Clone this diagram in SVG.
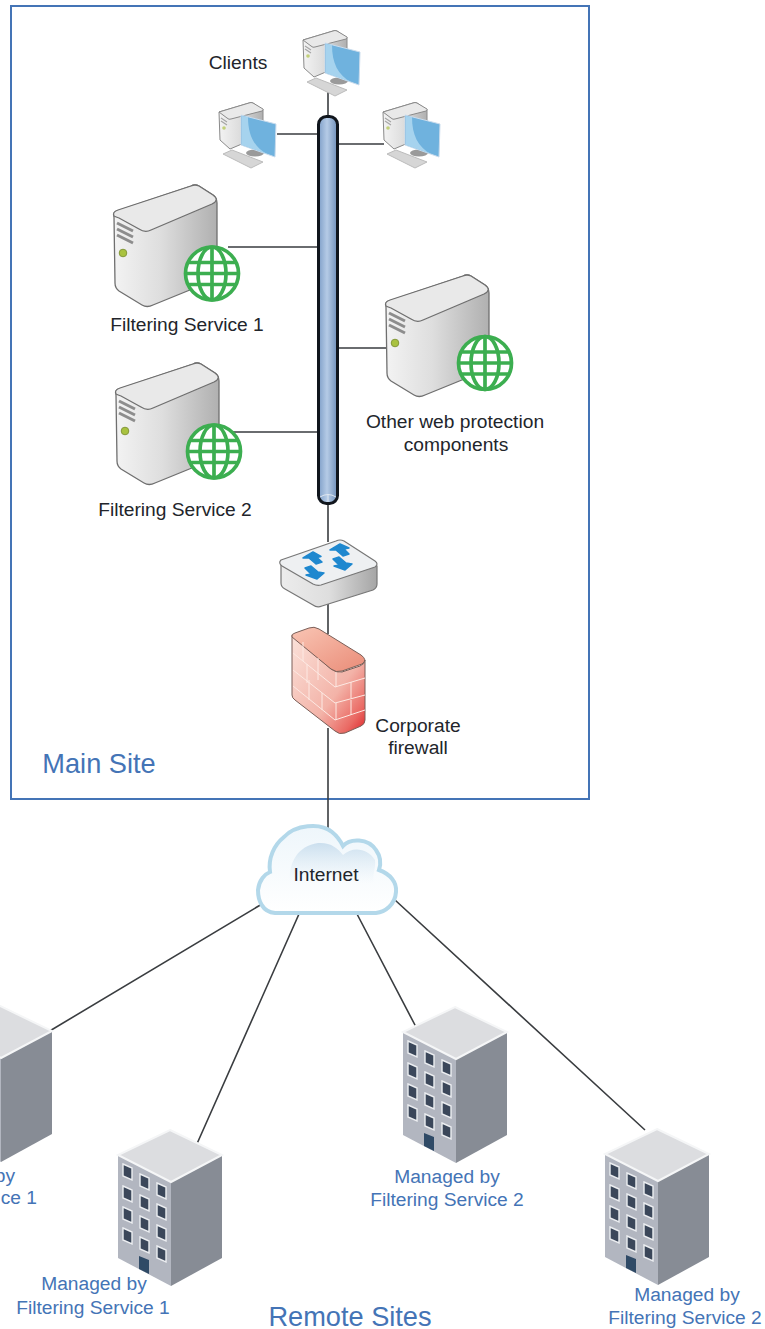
<svg xmlns="http://www.w3.org/2000/svg" width="765" height="1329" viewBox="0 0 765 1329">
<style>
text{font-family:"Liberation Sans",Arial,sans-serif;font-size:19.2px;fill:#22252b;text-anchor:middle}
.b{fill:#4474b6}
.e{text-anchor:end}
.big{font-size:27.2px}
.c{stroke:#3a3d40;stroke-width:1.6;fill:none}
.glw{fill:none;stroke:#3cae50;stroke-width:3.7}
</style>
<defs>
<linearGradient id="bus" x1="0" x2="1" y1="0" y2="0"><stop offset="0" stop-color="#7f9fc8"/><stop offset=".45" stop-color="#b5cbe6"/><stop offset="1" stop-color="#6f8fb9"/></linearGradient>
<linearGradient id="sv" x1="0" x2="1" y1="0" y2="0"><stop offset="0" stop-color="#f3f3f3"/><stop offset=".45" stop-color="#dedede"/><stop offset="1" stop-color="#b0b0b0"/></linearGradient>
<linearGradient id="sw" x1="0" x2="1" y1="0" y2="0"><stop offset="0" stop-color="#ececec"/><stop offset=".5" stop-color="#dedede"/><stop offset="1" stop-color="#a5a5a5"/></linearGradient>
<linearGradient id="fw" x1="0" x2="1" y1="0" y2="1"><stop offset="0" stop-color="#fbe2da"/><stop offset=".6" stop-color="#f3b3a8"/><stop offset=".85" stop-color="#ea6a64"/><stop offset="1" stop-color="#de2228"/></linearGradient>
<linearGradient id="ft" x1="0" x2="1" y1="0" y2="1"><stop offset="0" stop-color="#f9c5b4"/><stop offset="1" stop-color="#ea8c78"/></linearGradient>
<linearGradient id="cl" x1="0" x2="0" y1="0" y2="1"><stop offset="0" stop-color="#eef6fb"/><stop offset="1" stop-color="#ffffff"/></linearGradient>
<linearGradient id="cli" x1="0" x2="0" y1="0" y2="1"><stop offset="0" stop-color="#cbdfee"/><stop offset="1" stop-color="#e6f1f8" stop-opacity="0"/></linearGradient>
<g id="pc">
<path d="M1 10 31 1Q33 0 35 1L45 8V33L12 47 2 38Z" fill="url(#sv)" stroke="#8a8a8a"/>
<path d="M1 10 31 1Q33 0 35 1L45 7Q46 8 44 9L13 17Q11 18 9 16Z" fill="#e9e9e9" stroke="#8a8a8a"/>
<path d="M3 16 9 20M3 19 9 23" stroke="#a5a5a5" stroke-width="1.200"/>
<circle cx="6" cy="26" r="1.800" fill="#c2d07a"/>
<ellipse cx="37" cy="51" rx="9" ry="3.500" fill="#9a9a9a"/>
<path d="M5 52 14 48 45 60 33 66Z" fill="#d6d6d6" stroke="#bcbcbc"/>
<path d="M23 13 58 22 57 55 23 43Z" fill="#6fb2de" stroke="#cadced"/>
<path d="M24 14 30 15C30 33 36 45 49 52L24 43Z" fill="#a6d3ee"/>
</g>
<g id="srv">
<path d="M1 32Q0 27 4 26L78 1Q82-1 86 1L100 10Q104 13 104 18V88Q104 94 99 96L40 120Q34 123 29 120L6 106Q2 103 2 98Z" fill="url(#sv)" stroke="#6f6f6f" stroke-width="1.300"/>
<path d="M1 31Q-1 27 5 25L78 1Q82-1 86 1L100 10Q107 15 99 19L38 45Q32 48 26 44L6 33Q3 32 1 31Z" fill="#e9e9e9" stroke="#6f6f6f" stroke-width="1.300"/>
<path d="M4 38 20 46M4 44 20 52M4 50 20 58" stroke="#8d8d8d" stroke-width="3"/>
<circle cx="10" cy="68" r="3.800" fill="#a9c23f" stroke="#84983a"/>
</g>
<g id="globe">
<circle r="27" fill="#fff"/>
<circle r="26.500" class="glw"/>
<ellipse rx="14" ry="26.500" class="glw"/>
<path d="M0-26.500V26.500M-26.500 0H26.500M-24-11H24M-24 11H24" class="glw"/>
</g>
<g id="bld">
<path d="M-52 25 1 52V156L-52 128Z" fill="#b2b6c0"/>
<path d="M1 52 52 25V128L1 156Z" fill="#878c95"/>
<path d="M0 0 52 25 1 52-52 25Z" fill="#dcdde0" stroke="#f5f6f7" stroke-width="2"/>
<g fill="#3b475a" stroke="#eceef1" stroke-width="1.400">
<path d="M-47 34-38 38V50L-47 46Z"/><path d="M-47 56-38 60V72L-47 68Z"/><path d="M-47 77-38 81V93L-47 89Z"/><path d="M-47 98-38 102V114L-47 110Z"/>
<path d="M-30 44-21 48V60L-30 56Z"/><path d="M-30 65-21 69V81L-30 77Z"/><path d="M-30 86-21 90V102L-30 98Z"/><path d="M-30 107-21 111V123L-30 119Z"/>
<path d="M-13 53-4 57V69L-13 65Z"/><path d="M-13 74-4 78V90L-13 86Z"/><path d="M-13 95-4 99V111L-13 107Z"/><path d="M-13 116-4 120V132L-13 128Z"/>
</g>
<path d="M-31 126-21 130V144L-31 139Z" fill="#2f4a66"/>
</g>
</defs>
<rect width="765" height="1329" fill="#fff"/>
<g id="main-site"><rect x="11" y="6" width="578" height="793" fill="none" stroke="#4474b6" stroke-width="2"/></g>
<g id="connectors">
<path class="c" d="M328 85V118M277 134H320M336 144H384M228 247H320M336 348H386M233 432H320M328 502V542M328 604V634M328 728V830M262 904 48 1032M299 914 196 1146M357 914 416 1027M395 900 645 1130"/>
</g>
<g id="clients"><use href="#pc" x="302" y="30"/><use href="#pc" x="218" y="102"/><use href="#pc" x="382" y="102"/><text x="238" y="69">Clients</text></g>
<g id="bus-node"><rect x="318.500" y="116.500" width="19" height="387" rx="8" fill="url(#bus)" stroke="#10151c" stroke-width="3"/><path d="M320 497Q328 492 336 497M328 494V502" fill="none" stroke="#dfe7f0" stroke-width="1"/></g>
<g id="fs1"><use href="#srv" x="113" y="185"/><use href="#globe" x="212" y="273.500"/><text x="187" y="331">Filtering Service 1</text></g>
<g id="fs2"><use href="#srv" x="115" y="363"/><use href="#globe" x="214" y="451.500"/><text x="175" y="516">Filtering Service 2</text></g>
<g id="other"><use href="#srv" x="385" y="275"/><use href="#globe" x="485" y="363"/><text x="455" y="428">Other web protection</text><text x="456" y="451">components</text></g>
<g id="switch">
<path d="M281 564 281 583Q281 587 285 589L313 605Q317 608 322 606L373 590Q377 588 377 584V566Z" fill="url(#sw)" stroke="#777" stroke-width="1.200"/>
<path d="M281 560 336 541Q340 539 344 541L375 561Q379 564 375 567L321 585Q317 586 313 584L282 566Q278 563 281 560Z" fill="#eef0f2" stroke="#777" stroke-width="1.200"/>
<path d="M313 552 321 556.500 317 557.500 322 562 316 564 309 558 303 558ZM340 544 349 548 344 549 349 554 343 556 336 550 330 550ZM305 568 311 566 318 572 324 573 317 579 306 575 311 574ZM333 559 339 557 346 563 352 564 345 570 334 566 339 565Z" fill="#1f88cf" stroke="#1f88cf" stroke-width="1.500" stroke-linejoin="round"/>
</g>
<g id="firewall">
<path d="M292 635V695Q292 698 295 700L335 731Q339 735 345 733L361 726Q365 724 365 720V660Q365 664 360 666L342 672Q336 673 331 669Z" fill="url(#fw)" stroke="#7a5f58" stroke-width="1"/>
<path d="M292 637Q291 634 295 633L309 628Q314 626 319 629L361 655Q368 660 362 664L342 671Q336 673 331 669Z" fill="url(#ft)" stroke="#7a5f58" stroke-width="1"/>
<path d="M293 653 335 687 365 678M293 670 335 703 365 695M293 686 335 720 365 710M336 672V687M351 682V698M336 703V720M351 700V715M303 642V661M318 658V680M307 664V683M322 693V710M309 680V700" fill="none" stroke="#fde9e3" stroke-width="1"/>
<text x="418" y="732">Corporate</text><text x="418" y="754">firewall</text>
</g>
<text x="99" y="773" class="b big">Main Site</text>
<g id="internet">
<path d="M275 913C262 912 258 900 258 890 259 880 265 874 270 872 268 858 274 845 284 837 295 825 320 822 332 832 337 836 340 840 343 846 350 838 368 838 376 850 381 857 381 864 379 870 390 874 397 882 396 892 395 905 385 912 376 913Z" fill="url(#cl)" stroke="#b3d8ea" stroke-width="4"/>
<path d="M290 884C288 862 298 846 318 843 330 842 338 848 343 855 352 846 368 848 375 860 376 868 372 874 374 884Z" fill="url(#cli)"/>
<text x="326" y="881">Internet</text>
</g>
<g id="site1"><use href="#bld" x="0" y="1006"/><text x="15" y="1182" class="b e">by</text><text x="37" y="1204" class="b e">ce 1</text></g>
<g id="site2"><use href="#bld" x="170" y="1130"/><text x="94" y="1290" class="b">Managed by</text><text x="93" y="1314" class="b">Filtering Service 1</text></g>
<g id="site3"><use href="#bld" x="455" y="1007"/><text x="447" y="1183" class="b">Managed by</text><text x="447" y="1206" class="b">Filtering Service 2</text></g>
<g id="site4"><use href="#bld" x="657" y="1129"/><text x="687" y="1301" class="b">Managed by</text><text x="685" y="1324" class="b">Filtering Service 2</text></g>
<text x="350" y="1326" class="b big">Remote Sites</text>
</svg>
